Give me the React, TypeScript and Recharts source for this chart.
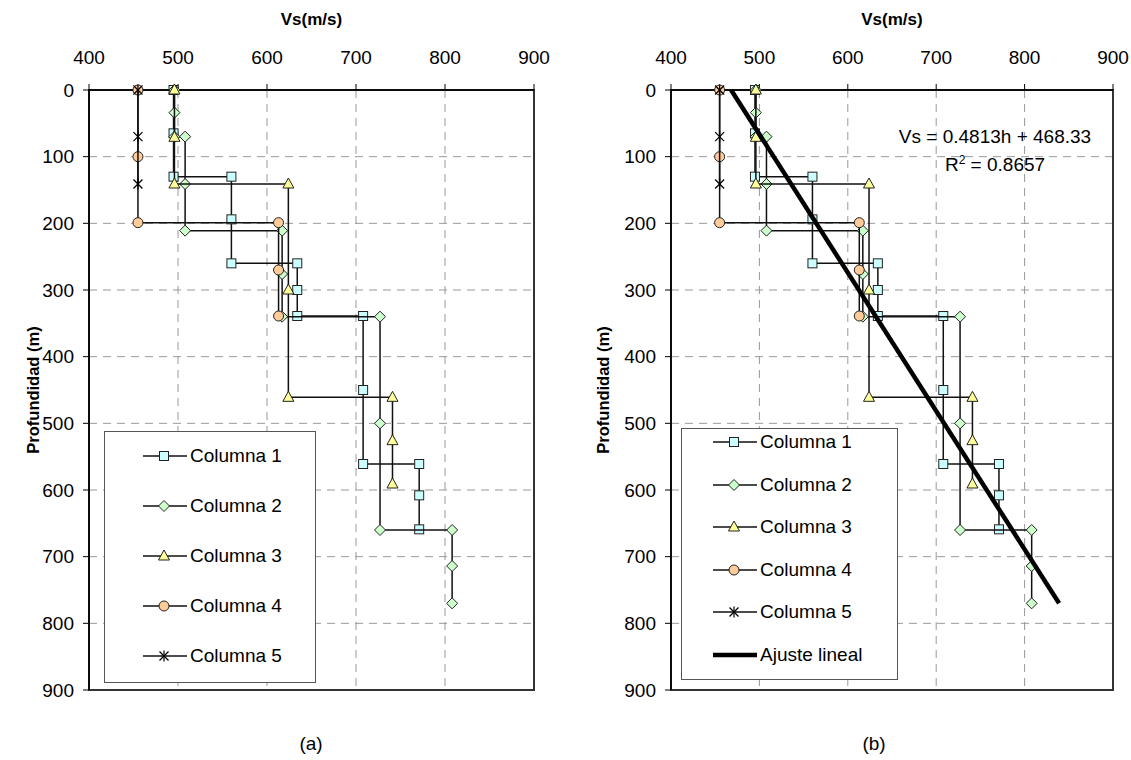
import { ScatterChart, Scatter, XAxis, YAxis, CartesianGrid, ReferenceArea } from "recharts";

// perfiles Vs vs profundidad
const vsTicks = [400, 500, 600, 700, 800, 900];
const depthTicks = [0, 100, 200, 300, 400, 500, 600, 700, 800, 900];

const col1Vs = [495, 495, 495, 560, 560, 560, 634, 634, 634, 708, 708, 708, 771, 771, 771];
const col1H = [0, 65, 130, 130, 194, 260, 260, 300, 339, 339, 450, 561, 561, 608, 659];

const col2Vs = [496, 496, 496, 508, 508, 508, 617, 617, 617, 727, 727, 727, 808, 808, 808];
const col2H = [0, 34, 70, 70, 141, 211, 211, 276, 340, 340, 500, 660, 660, 714, 770];

const col3Vs = [496, 496, 496, 624, 624, 624, 741, 741, 741];
const col3H = [0, 71, 141, 141, 300, 461, 461, 526, 591];

const col4Vs = [455, 455, 455, 613, 613, 613];
const col4H = [0, 100, 199, 199, 270, 339];

const col5Vs = [455, 455, 455];
const col5H = [0, 70, 141];

// ajuste lineal: Vs = 0.4813h + 468.33
const fitVs = [468, 839];
const fitH = [0, 770];

const seriesNames = ["Columna 1", "Columna 2", "Columna 3", "Columna 4", "Columna 5"];
const markerKinds = ["square", "diamond", "triangle", "circle", "star"];
const markerFills = ["#ccffff", "#ccffcc", "#ffff99", "#ffcc99", "#000000"];

const toPoints = (vs: number[], h: number[]) => vs.map((v, i) => ({ vs: v, h: h[i] }));

const columns = [
  toPoints(col1Vs, col1H),
  toPoints(col2Vs, col2H),
  toPoints(col3Vs, col3H),
  toPoints(col4Vs, col4H),
  toPoints(col5Vs, col5H),
];
const fitPoints = toPoints(fitVs, fitH);

const FONT = "'Liberation Sans', Arial, sans-serif";
const LINE = "#111";

function Marker({ kind, cx, cy, fill }: { kind: string; cx: number; cy: number; fill: string }) {
  const st = { stroke: "#222", strokeWidth: 1 };
  if (kind === "square") return <rect x={cx - 4.5} y={cy - 4.5} width={9} height={9} fill={fill} {...st} />;
  if (kind === "diamond")
    return <path d={`M${cx},${cy - 5.5}L${cx + 5.5},${cy}L${cx},${cy + 5.5}L${cx - 5.5},${cy}Z`} fill={fill} {...st} />;
  if (kind === "triangle")
    return <path d={`M${cx},${cy - 6}L${cx + 5.5},${cy + 4}L${cx - 5.5},${cy + 4}Z`} fill={fill} {...st} />;
  if (kind === "circle") return <circle cx={cx} cy={cy} r={5} fill={fill} {...st} />;
  return (
    <g stroke="#000" strokeWidth={1.2}>
      <line x1={cx - 4.5} y1={cy - 4.5} x2={cx + 4.5} y2={cy + 4.5} />
      <line x1={cx - 4.5} y1={cy + 4.5} x2={cx + 4.5} y2={cy - 4.5} />
      <line x1={cx} y1={cy - 5.5} x2={cx} y2={cy + 5.5} />
    </g>
  );
}

type Box = { left: number; top: number; width: number; height: number; first: number; step: number; lineX: number; textX: number };

function LegendBox({ box, withFit }: { box: Box; withFit: boolean }) {
  const items = seriesNames.map((n, i) => ({ name: n, kind: markerKinds[i], fill: markerFills[i] }));
  if (withFit) items.push({ name: "Ajuste lineal", kind: "fit", fill: "" });
  return (
    <div
      style={{
        position: "absolute",
        left: box.left,
        top: box.top,
        width: box.width,
        height: box.height,
        border: "1px solid #555",
        background: "#fff",
        boxSizing: "border-box",
      }}
    >
      {items.map((it, i) => {
        const y = box.first + i * box.step;
        return (
          <div key={it.name} style={{ position: "absolute", left: 0, top: y - 12, height: 24, width: "100%" }}>
            <svg width={box.textX} height={24} style={{ position: "absolute", left: 0, top: 0 }}>
              {it.kind === "fit" ? (
                <line x1={box.lineX} y1={12} x2={box.lineX + 44} y2={12} stroke="#000" strokeWidth={4.5} />
              ) : (
                <>
                  <line x1={box.lineX} y1={12} x2={box.lineX + 44} y2={12} stroke={LINE} strokeWidth={1.3} />
                  <Marker kind={it.kind} cx={box.lineX + 21} cy={12} fill={it.fill} />
                </>
              )}
            </svg>
            <span
              style={{
                position: "absolute",
                left: box.textX,
                top: 0,
                lineHeight: "24px",
                fontSize: 19,
                fontFamily: FONT,
                whiteSpace: "nowrap",
                color: "#000",
              }}
            >
              {it.name}
            </span>
          </div>
        );
      })}
    </div>
  );
}

type PanelProps = {
  x: number;
  width: number;
  margin: { top: number; right: number; bottom: number; left: number };
  withFit: boolean;
  box: Box;
  caption: string;
  ylabelX: number;
  captionX: number;
};

function Panel({ x, width, margin, withFit, box, caption, ylabelX, captionX }: PanelProps) {
  const plotLeft = margin.left + 60;
  const plotRight = width - margin.right;
  const center = (plotLeft + plotRight) / 2;
  const tick = { fontSize: 19, fontFamily: FONT, fill: "#000" };
  return (
    <div style={{ position: "absolute", left: x, top: 0, width, height: 760 }}>
      <ScatterChart width={width} height={760} margin={margin}>
        <CartesianGrid stroke="#999" strokeDasharray="8 6" />
        <ReferenceArea x1={400} x2={900} y1={0} y2={900} fill="none" stroke="#333" strokeWidth={2} />
        <XAxis
          type="number"
          dataKey="vs"
          orientation="top"
          domain={[400, 900]}
          ticks={vsTicks}
          height={30}
          tick={tick}
          tickSize={6}
          tickMargin={20}
          axisLine={{ stroke: "#000", strokeWidth: 1.5 }}
          tickLine={{ stroke: "#000" }}
        />
        <YAxis
          type="number"
          dataKey="h"
          reversed
          domain={[0, 900]}
          ticks={depthTicks}
          width={60}
          tick={tick}
          tickSize={6}
          tickMargin={9}
          axisLine={{ stroke: "#000", strokeWidth: 1.5 }}
          tickLine={{ stroke: "#000" }}
        />
        {columns.map((pts, i) => (
          <Scatter
            key={seriesNames[i]}
            name={seriesNames[i]}
            data={pts}
            line={{ stroke: LINE, strokeWidth: 1.5 }}
            lineJointType="linear"
            shape={(p: any) => <Marker kind={markerKinds[i]} cx={p.cx} cy={p.cy} fill={markerFills[i]} />}
            isAnimationActive={false}
          />
        ))}
        {withFit && (
          <Scatter
            name="Ajuste lineal"
            data={fitPoints}
            line={{ stroke: "#000", strokeWidth: 4.5 }}
            lineJointType="linear"
            shape={() => <g />}
            isAnimationActive={false}
          />
        )}
      </ScatterChart>

      <div
        style={{
          position: "absolute",
          left: center - 100,
          width: 200,
          top: 10,
          textAlign: "center",
          fontFamily: FONT,
          fontWeight: "bold",
          fontSize: 17,
        }}
      >
        Vs(m/s)
      </div>
      <div
        style={{
          position: "absolute",
          left: ylabelX - 100,
          top: 380,
          width: 200,
          textAlign: "center",
          fontFamily: FONT,
          fontWeight: "bold",
          fontSize: 16.5,
          lineHeight: "20px",
          transform: "rotate(-90deg)",
        }}
      >
        Profundidad (m)
      </div>
      <div
        style={{
          position: "absolute",
          left: captionX - 50,
          width: 100,
          top: 733,
          textAlign: "center",
          fontFamily: FONT,
          fontSize: 19,
        }}
      >
        {caption}
      </div>

      <LegendBox box={box} withFit={withFit} />

      {withFit && (
        <div
          style={{
            position: "absolute",
            left: 898 - x,
            top: 123,
            width: 194,
            textAlign: "center",
            fontFamily: FONT,
            fontSize: 19,
            lineHeight: "28px",
          }}
        >
          <div style={{ whiteSpace: "nowrap" }}>Vs = 0.4813h + 468.33</div>
          <div>
            R<sup style={{ fontSize: 12, lineHeight: 0 }}>2</sup> = 0.8657
          </div>
        </div>
      )}
    </div>
  );
}

export default function App() {
  return (
    <div style={{ position: "absolute", left: 0, top: 0, width: 1131, height: 760, background: "#fff" }}>
      <Panel
        x={0}
        width={565}
        margin={{ top: 60, right: 31, bottom: 70, left: 29 }}
        withFit={false}
        box={{ left: 104, top: 431, width: 212, height: 252, first: 24, step: 50, lineX: 38, textX: 85 }}
        caption="(a)"
        ylabelX={33}
        captionX={311}
      />
      <Panel
        x={565}
        width={566}
        margin={{ top: 60, right: 18, bottom: 70, left: 46 }}
        withFit={true}
        box={{ left: 116, top: 428, width: 217, height: 252, first: 13, step: 42.6, lineX: 31, textX: 78 }}
        caption="(b)"
        ylabelX={38}
        captionX={309}
      />
    </div>
  );
}
